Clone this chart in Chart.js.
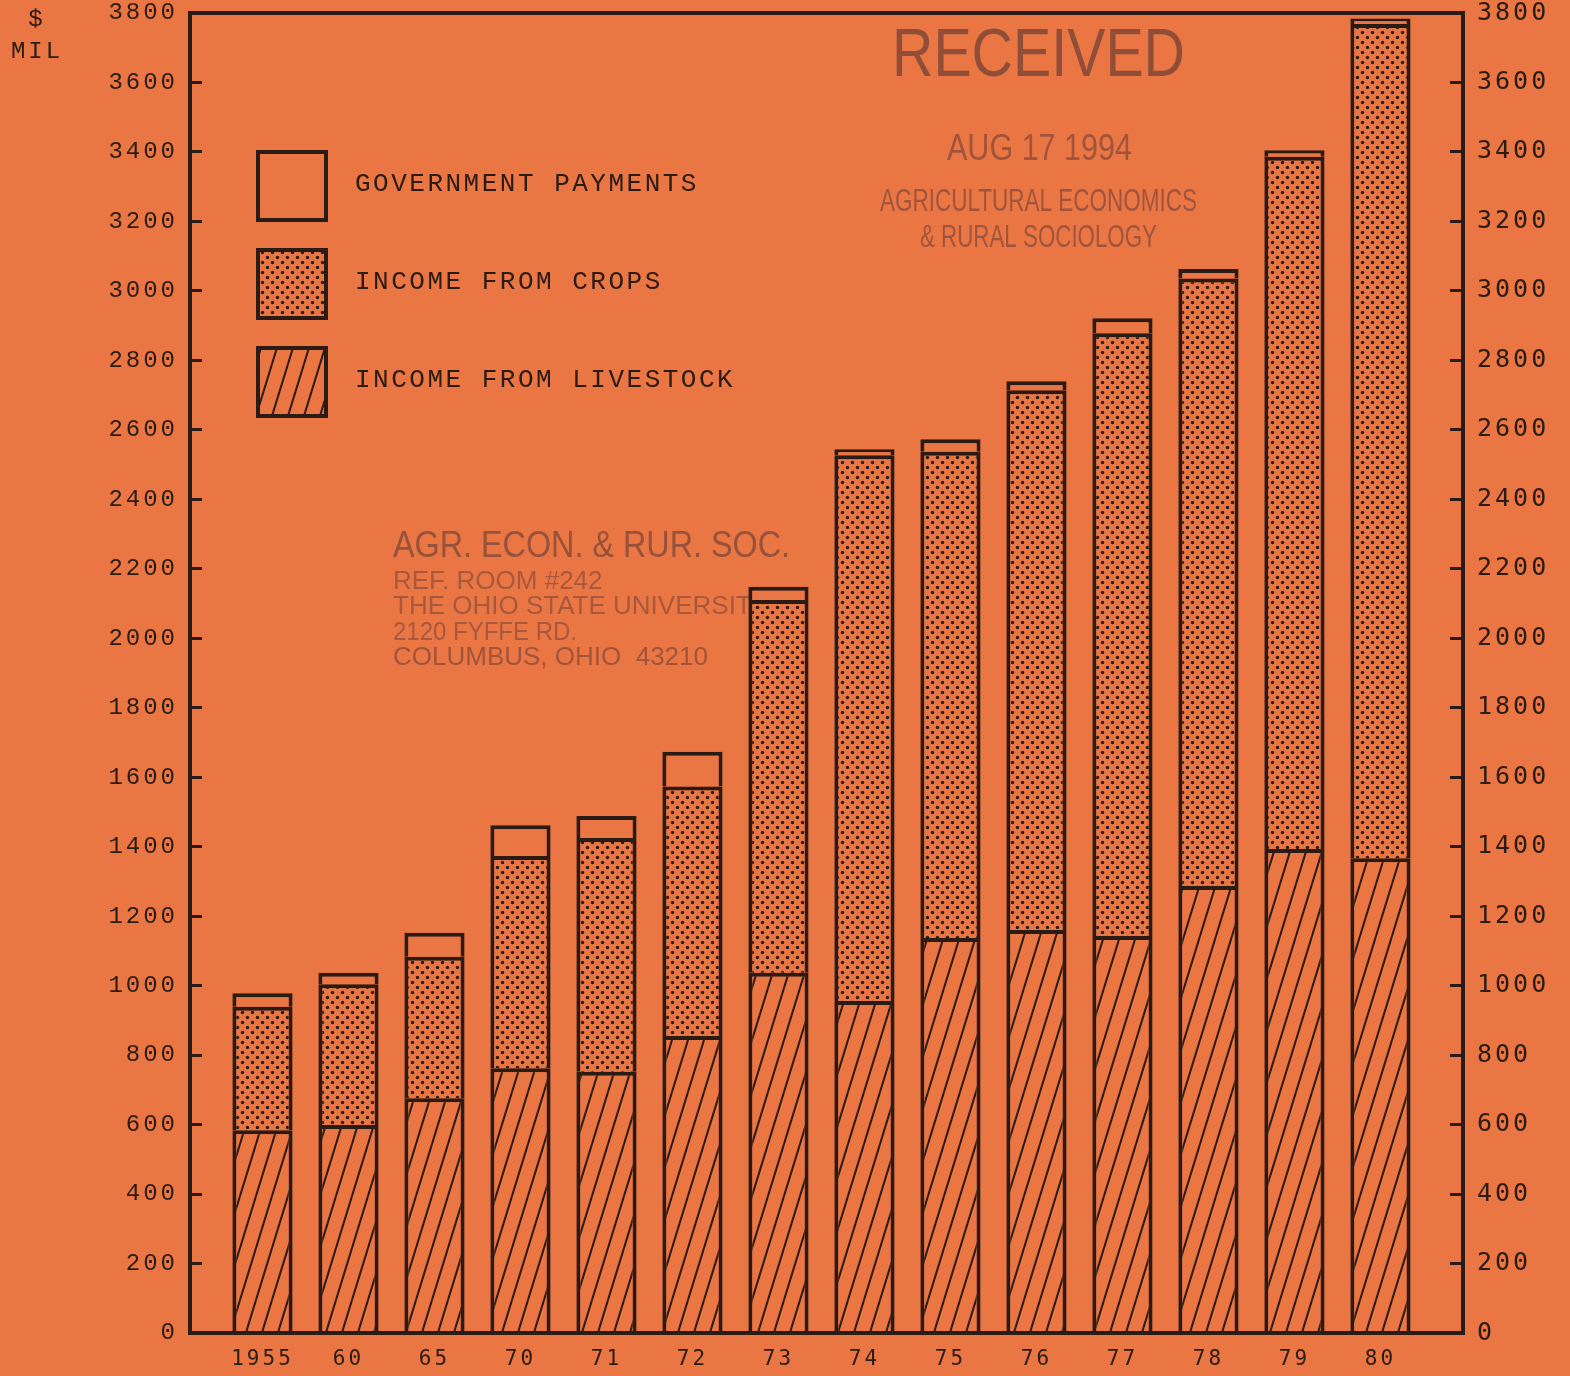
<!DOCTYPE html>
<html>
<head>
<meta charset="utf-8">
<title>Cash receipts from farming</title>
<script src="https://cdn.jsdelivr.net/npm/chart.js@4.4.1/dist/chart.umd.min.js"></script>
<style>
  html, body { margin: 0; padding: 0; background: #ea7644; }
  #wrap { width: 1570px; height: 1376px; position: relative; }
</style>
</head>
<body>
<div id="wrap"><canvas id="farm_chart"></canvas></div>
<script>
// data ($ million)
const years = ["1955", "60", "65", "70", "71", "72", "73", "74", "75", "76", "77", "78", "79", "80"];
const seriesNames = ["INCOME FROM LIVESTOCK", "INCOME FROM CROPS", "GOVERNMENT PAYMENTS"];
const livestock = [584, 599, 676, 762, 752, 855, 1037, 956, 1137, 1160, 1143, 1287, 1393, 1367];
const crops = [355, 405, 407, 611, 673, 718, 1073, 1571, 1400, 1554, 1735, 1749, 1993, 2401];
const government = [39, 33, 69, 89, 63, 100, 38, 17, 36, 26, 43, 27, 19, 16];
const yTicks = [0, 200, 400, 600, 800, 1000, 1200, 1400, 1600, 1800, 2000, 2200, 2400, 2600, 2800, 3000, 3200, 3400, 3600, 3800];

const paper = "#ea7644";
const ink = "#2a1b15";

// fill patterns like the printed screens
function hatchPattern() {
  const c = document.createElement("canvas");
  c.width = 16; c.height = 52;
  const g = c.getContext("2d");
  g.fillStyle = paper;
  g.fillRect(0, 0, 16, 52);
  g.strokeStyle = ink;
  g.lineWidth = 2;
  g.beginPath();
  for (let k = -1; k <= 1; k++) {
    g.moveTo(k * 16, 52);
    g.lineTo(k * 16 + 16, 0);
  }
  g.stroke();
  return g.createPattern(c, "repeat");
}

function dotPattern() {
  const c = document.createElement("canvas");
  c.width = 10; c.height = 10;
  const g = c.getContext("2d");
  g.fillStyle = paper;
  g.fillRect(0, 0, 10, 10);
  g.fillStyle = ink;
  [[2.5, 2.5], [7.5, 7.5]].forEach(p => {
    g.beginPath();
    g.arc(p[0], p[1], 1.7, 0, Math.PI * 2);
    g.fill();
  });
  return g.createPattern(c, "repeat");
}

const ctx = document.getElementById("farm_chart").getContext("2d");
const toPoints = arr => arr.map((v, i) => ({ x: i, y: v }));

// background + typewriter letter spacing
const paperPlugin = {
  id: "paper",
  beforeDraw(chart) {
    const c = chart.ctx;
    c.save();
    c.fillStyle = paper;
    c.fillRect(0, 0, chart.width, chart.height);
    c.restore();
    c.letterSpacing = "3px";
  }
};

// rubber stamps on the scan (drawn under the bars)
const stampPlugin = {
  id: "stamps",
  beforeDatasetsDraw(chart) {
    const c = chart.ctx;
    const lines = [
      ["RECEIVED", 892, 57, 68, 293, 0.55],
      ["AUG 17 1994", 947, 150, 37, 185, 0.45],
      ["AGRICULTURAL ECONOMICS", 880, 202, 32, 317, 0.45],
      ["& RURAL SOCIOLOGY", 920, 238, 32, 237, 0.45],
      ["AGR. ECON. & RUR. SOC.", 393, 547, 37, 397, 0.5],
      ["REF. ROOM #242", 393, 582, 26, 217, 0.4],
      ["THE OHIO STATE UNIVERSITY", 393, 607, 26, 440, 0.4],
      ["2120 FYFFE RD.", 393, 633, 26, 184, 0.4],
      ["COLUMBUS, OHIO  43210", 393, 658, 26, 347, 0.45]
    ];
    c.save();
    c.letterSpacing = "0px";
    c.textAlign = "left";
    c.textBaseline = "middle";
    lines.forEach(l => {
      c.font = l[3] + "px 'Liberation Sans Narrow', 'Liberation Sans', sans-serif";
      c.fillStyle = "rgba(70,45,50," + l[5] + ")";
      c.fillText(l[0], l[1], l[2], l[4]);
    });
    c.restore();
  }
};

// frame, legend and unit label
const framePlugin = {
  id: "frame",
  afterDatasetsDraw(chart) {
    const c = chart.ctx;
    const a = chart.chartArea;
    c.save();
    c.strokeStyle = ink;
    c.lineWidth = 4;
    c.strokeRect(a.left, a.top, a.right - a.left, a.bottom - a.top);

    // legend, top entry is the top of the stack
    const sets = chart.data.datasets.slice().reverse();
    sets.forEach((ds, k) => {
      const bx = a.left + 66, by = a.top + 137 + k * 98, size = 72;
      c.fillStyle = ds.backgroundColor;
      c.fillRect(bx, by, size, size);
      c.lineWidth = 4;
      c.strokeRect(bx + 2, by + 2, size - 4, size - 4);
      c.fillStyle = ink;
      c.font = "26px 'Liberation Mono', monospace";
      c.letterSpacing = "2.5px";
      c.textAlign = "left";
      c.textBaseline = "middle";
      c.fillText(ds.label, bx + 99, by + 34);
    });

    c.font = "24px 'Liberation Mono', monospace";
    c.letterSpacing = "3px";
    c.textAlign = "center";
    c.fillText("$", 37, 20);
    c.fillText("MIL", 37, 52);
    c.restore();
  }
};

new Chart(ctx, {
  type: "bar",
  data: {
    datasets: [
      { label: seriesNames[0], data: toPoints(livestock), backgroundColor: hatchPattern() },
      { label: seriesNames[1], data: toPoints(crops), backgroundColor: dotPattern() },
      { label: seriesNames[2], data: toPoints(government), backgroundColor: paper }
    ]
  },
  options: {
    responsive: true,
    maintainAspectRatio: false,
    animation: false,
    layout: { padding: { top: 13, right: 0, bottom: 0, left: 0 } },
    datasets: {
      bar: {
        borderColor: ink,
        borderWidth: 4,
        borderSkipped: "start",
        barPercentage: 0.875,
        categoryPercentage: 0.8
      }
    },
    plugins: {
      legend: { display: false },
      tooltip: { enabled: false }
    },
    scales: {
      x: {
        type: "linear",
        stacked: true,
        offset: false,
        min: -0.843,
        max: 13.96,
        afterBuildTicks: s => { s.ticks = years.map((y, i) => ({ value: i })); },
        afterFit: s => { s.height = 43; },
        grid: { display: false, drawTicks: false },
        border: { display: false },
        ticks: {
          callback: (v, i) => years[i],
          autoSkip: false,
          maxRotation: 0,
          color: ink,
          padding: 14,
          font: { family: "'DejaVu Sans Mono', monospace", size: 21 }
        }
      },
      y: {
        stacked: true,
        position: "left",
        min: 0,
        max: 3800,
        afterBuildTicks: s => { s.ticks = yTicks.map(v => ({ value: v })); },
        afterFit: s => { s.width = 190; s.paddingTop = 0; s.paddingBottom = 0; },
        grid: { drawOnChartArea: false, tickLength: -12, tickWidth: 3, tickColor: ink },
        border: { display: false },
        ticks: {
          callback: v => String(v),
          autoSkip: false,
          color: ink,
          padding: 24,
          font: { family: "'Liberation Mono', monospace", size: 24 }
        }
      },
      y2: {
        position: "right",
        min: 0,
        max: 3800,
        afterBuildTicks: s => { s.ticks = yTicks.map(v => ({ value: v })); },
        afterFit: s => { s.width = 107; s.paddingTop = 0; s.paddingBottom = 0; },
        grid: { drawOnChartArea: false, tickLength: -13, tickWidth: 3, tickColor: ink },
        border: { display: false },
        ticks: {
          callback: v => String(v),
          autoSkip: false,
          color: ink,
          padding: 27,
          font: { family: "'DejaVu Sans Mono', monospace", size: 25 }
        }
      }
    }
  },
  plugins: [paperPlugin, stampPlugin, framePlugin]
});
</script>
</body>
</html>
